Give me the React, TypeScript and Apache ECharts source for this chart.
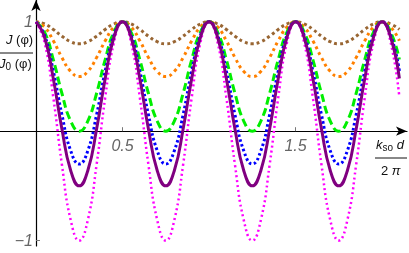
import React, { useEffect, useRef } from "react";
import * as echarts from "echarts";

// x = k_so d / (2π)
const xs = [
  0, 0.05, 0.1, 0.15, 0.2, 0.25, 0.3, 0.35, 0.4, 0.45,
  0.5, 0.55, 0.6, 0.65, 0.7, 0.75, 0.8, 0.85, 0.9, 0.95,
  1.0, 1.05, 1.1, 1.15, 1.2, 1.25, 1.3, 1.35, 1.4, 1.45,
  1.5, 1.55, 1.6, 1.65, 1.7, 1.75, 1.8, 1.85, 1.9, 1.95,
  2.0, 2.05, 2.1,
];

const brown = [
  1, 0.981, 0.931, 0.869, 0.819, 0.8, 0.819, 0.869, 0.931, 0.981,
  1, 0.981, 0.931, 0.869, 0.819, 0.8, 0.819, 0.869, 0.931, 0.981,
  1, 0.981, 0.931, 0.869, 0.819, 0.8, 0.819, 0.869, 0.931, 0.981,
  1, 0.981, 0.931, 0.869, 0.819, 0.8, 0.819, 0.869, 0.931, 0.981,
  1, 0.981, 0.931,
];
const orange = [
  1, 0.952, 0.827, 0.673, 0.548, 0.5, 0.548, 0.673, 0.827, 0.952,
  1, 0.952, 0.827, 0.673, 0.548, 0.5, 0.548, 0.673, 0.827, 0.952,
  1, 0.952, 0.827, 0.673, 0.548, 0.5, 0.548, 0.673, 0.827, 0.952,
  1, 0.952, 0.827, 0.673, 0.548, 0.5, 0.548, 0.673, 0.827, 0.952,
  1, 0.952, 0.827,
];
const green = [
  1, 0.905, 0.655, 0.345, 0.095, 0, 0.095, 0.345, 0.655, 0.905,
  1, 0.905, 0.655, 0.345, 0.095, 0, 0.095, 0.345, 0.655, 0.905,
  1, 0.905, 0.655, 0.345, 0.095, 0, 0.095, 0.345, 0.655, 0.905,
  1, 0.905, 0.655, 0.345, 0.095, 0, 0.095, 0.345, 0.655, 0.905,
  1, 0.905, 0.655,
];
const blue = [
  1, 0.876, 0.551, 0.149, -0.176, -0.3, -0.176, 0.149, 0.551, 0.876,
  1, 0.876, 0.551, 0.149, -0.176, -0.3, -0.176, 0.149, 0.551, 0.876,
  1, 0.876, 0.551, 0.149, -0.176, -0.3, -0.176, 0.149, 0.551, 0.876,
  1, 0.876, 0.551, 0.149, -0.176, -0.3, -0.176, 0.149, 0.551, 0.876,
  1, 0.876, 0.551,
];
const purple = [
  1, 0.857, 0.482, 0.018, -0.357, -0.5, -0.357, 0.018, 0.482, 0.857,
  1, 0.857, 0.482, 0.018, -0.357, -0.5, -0.357, 0.018, 0.482, 0.857,
  1, 0.857, 0.482, 0.018, -0.357, -0.5, -0.357, 0.018, 0.482, 0.857,
  1, 0.857, 0.482, 0.018, -0.357, -0.5, -0.357, 0.018, 0.482, 0.857,
  1, 0.857, 0.482,
];
const magenta = [
  1, 0.809, 0.309, -0.309, -0.809, -1, -0.809, -0.309, 0.309, 0.809,
  1, 0.809, 0.309, -0.309, -0.809, -1, -0.809, -0.309, 0.309, 0.809,
  1, 0.809, 0.309, -0.309, -0.809, -1, -0.809, -0.309, 0.309, 0.809,
  1, 0.809, 0.309, -0.309, -0.809, -1, -0.809, -0.309, 0.309, 0.809,
  1, 0.809, 0.309,
];

const xTicks = [0.5, 1.5];
const xTickLabels = ["0.5", "1.5"];
const yTicks = [1, -1];
const yTickLabels = ["1", "\u22121"];

const FONT = "'Liberation Sans', Arial, sans-serif";

export default function App() {
  const ref = useRef<HTMLDivElement>(null);
  useEffect(() => {
    if (!ref.current) return;
    const chart = echarts.init(ref.current, null, { renderer: "svg" });
    const mk = (
      name: string,
      ys: number[],
      color: string,
      width: number,
      type: any,
      z: number
    ) => ({
      name,
      type: "line",
      data: xs.map((x, i) => [x, ys[i]]),
      smooth: true,
      showSymbol: false,
      symbol: "none",
      z,
      lineStyle: { color, width, type, cap: "butt" },
    });
    const labelStyle = {
      fill: "#666",
      fontStyle: "italic",
      fontSize: 16,
      fontFamily: FONT,
    };
    const staticGraphics: any[] = [
      {
        type: "text",
        left: 6,
        top: 33,
        style: {
          text: "{i|J} (φ)",
          fontSize: 13,
          fontFamily: FONT,
          fill: "#111",
          rich: { i: { fontStyle: "italic", fontSize: 13, fontFamily: FONT } },
        },
      },
      {
        type: "line",
        shape: { x1: 0, y1: 53, x2: 33, y2: 53 },
        style: { stroke: "#111", lineWidth: 1 },
      },
      {
        type: "text",
        left: -1,
        top: 57,
        style: {
          text: "{i|J}{s|0} (φ)",
          fontSize: 13,
          fontFamily: FONT,
          fill: "#111",
          rich: {
            i: { fontStyle: "italic", fontSize: 13, fontFamily: FONT },
            s: { fontSize: 10, fontFamily: FONT, padding: [6, 0, 0, 0] },
          },
        },
      },
      {
        type: "text",
        left: 376,
        top: 138,
        style: {
          text: "{i|k}{s|so} {i|d}",
          fontSize: 13,
          fontFamily: FONT,
          fill: "#111",
          rich: {
            i: { fontStyle: "italic", fontSize: 13, fontFamily: FONT },
            s: { fontSize: 10, fontFamily: FONT, padding: [6, 0, 0, 0] },
          },
        },
      },
      {
        type: "line",
        shape: { x1: 375, y1: 158, x2: 407, y2: 158 },
        style: { stroke: "#111", lineWidth: 1 },
      },
      {
        type: "text",
        left: 381,
        top: 164,
        style: {
          text: "2 {i|π}",
          fontSize: 13,
          fontFamily: FONT,
          fill: "#111",
          rich: { i: { fontStyle: "italic", fontSize: 13, fontFamily: FONT } },
        },
      },
    ];
    chart.setOption({
      animation: false,
      grid: {
        left: 0,
        right: 2,
        top: 0,
        bottom: 7,
        containLabel: false,
        outerBoundsMode: "none",
      },
      xAxis: {
        type: "value",
        min: -0.208,
        max: 2.144,
        splitLine: { show: false },
        axisLine: {
          onZero: true,
          lineStyle: { color: "#000", width: 1.2 },
          symbol: ["none", "arrow"],
          symbolSize: [7, 11],
        },
        axisTick: {
          show: true,
          inside: true,
          length: 4,
          customValues: xTicks,
          lineStyle: { color: "#777" },
        },
        axisLabel: { show: false },
      },
      yAxis: {
        type: "value",
        min: -1.05,
        max: 1.2,
        splitLine: { show: false },
        axisLine: {
          onZero: true,
          lineStyle: { color: "#000", width: 1.2 },
          symbol: ["none", "arrow"],
          symbolSize: [7, 11],
        },
        axisTick: {
          show: true,
          inside: true,
          length: 4,
          customValues: yTicks,
          lineStyle: { color: "#777" },
        },
        axisLabel: { show: false },
      },
      series: [
        mk("brown", brown, "#996633", 3, [3, 3], 2),
        mk("orange", orange, "#ff8000", 3, [3, 3.5], 3),
        mk("green", green, "#00ee00", 3, [8, 4], 4),
        mk("blue", blue, "#0000ff", 3, [2.5, 2.5], 5),
        mk("magenta", magenta, "#ff00ff", 2.5, [2, 3], 6),
        mk("purple", purple, "#800080", 3, "solid", 7),
      ],
      graphic: staticGraphics,
    });
    // tick labels positioned through the axes' own scales
    const tickTexts: any[] = [];
    xTicks.forEach((v, i) => {
      const [px, py] = chart.convertToPixel({ gridIndex: 0 }, [v, 0]) as number[];
      tickTexts.push({
        type: "text",
        x: px,
        y: py + 6,
        style: { ...labelStyle, text: xTickLabels[i], align: "center", verticalAlign: "top" },
      });
    });
    yTicks.forEach((v, i) => {
      const [px, py] = chart.convertToPixel({ gridIndex: 0 }, [0, v]) as number[];
      tickTexts.push({
        type: "text",
        x: px - 3,
        y: py,
        style: { ...labelStyle, text: yTickLabels[i], align: "right", verticalAlign: "middle" },
      });
    });
    chart.setOption({ graphic: [...staticGraphics, ...tickTexts] });
    return () => chart.dispose();
  }, []);
  return (
    <div
      ref={ref}
      style={{ position: "fixed", left: 0, top: 0, width: 409, height: 253 }}
    />
  );
}
